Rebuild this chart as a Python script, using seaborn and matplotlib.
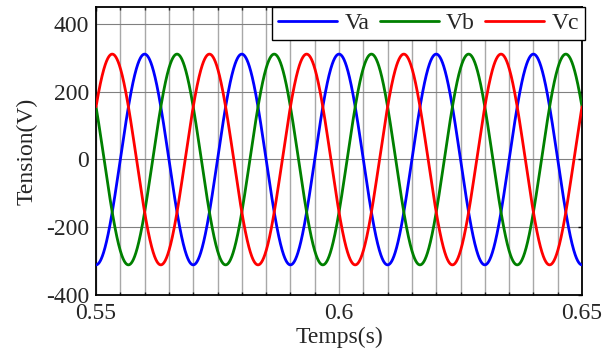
import numpy as np
import pandas as pd
import matplotlib
matplotlib.use("Agg")
import matplotlib.pyplot as plt
import seaborn as sns
from matplotlib.ticker import MultipleLocator

# --- data ---
phases = ["Va", "Vb", "Vc"]
amplitude_V = [311, 311, 311]          # peak voltage of each phase
frequency_Hz = [50, 50, 50]
phase_deg = [0, -120, 120]             # cosine phase (Va peaks at t = 0.56 s)
colors = ["#0000ff", "#008000", "#ff0000"]
t_start, t_end = 0.55, 0.65
x_ticks = [0.55, 0.6, 0.65]
x_tick_labels = ["0.55", "0.6", "0.65"]
y_ticks = [-400, -200, 0, 200, 400]

t = np.linspace(t_start, t_end, 2001)
frames = []
for name, A, f, ph in zip(phases, amplitude_V, frequency_Hz, phase_deg):
    v = A * np.cos(2 * np.pi * f * t + np.deg2rad(ph))
    frames.append(pd.DataFrame({"t": t, "v": v, "phase": name}))
df = pd.concat(frames, ignore_index=True)

sns.set_style("white")
plt.rcParams["font.family"] = ["Liberation Serif", "DejaVu Serif"]
plt.rcParams["axes.unicode_minus"] = False

FS = 17
fig = plt.figure(figsize=(6.02, 3.51), dpi=100)
ax = fig.add_axes([0.1595, 0.1595, 0.8073, 0.8205])

# grids
for xv in np.arange(t_start, t_end + 1e-9, 0.005):
    ax.axvline(xv, color="#a8a8a8", lw=1.0, zorder=0)
for yv in y_ticks:
    ax.axhline(yv, color="#808080", lw=0.8, zorder=0)

sns.lineplot(data=df, x="t", y="v", hue="phase", palette=colors,
             linewidth=2.0, ax=ax, legend=True, zorder=3)

ax.set_xlim(t_start, t_end)
ax.set_ylim(-400, 450)
ax.set_xticks(x_ticks)
ax.set_xticklabels(x_tick_labels)
ax.set_yticks(y_ticks)
ax.xaxis.set_minor_locator(MultipleLocator(0.005))
ax.tick_params(axis="both", which="major", direction="in", length=3, width=1,
               labelsize=FS, top=True, right=True, color="black")
ax.tick_params(axis="x", which="major", pad=6)
ax.tick_params(axis="y", which="major", pad=5)
ax.tick_params(axis="x", which="minor", direction="in", length=2, width=1,
               top=True, bottom=True)
for s in ax.spines.values():
    s.set_color("black")
    s.set_linewidth(1.3)

ax.set_xlabel("Temps(s)", fontsize=FS, labelpad=2)
ax.set_ylabel("Tension(V)", fontsize=FS, labelpad=6)

handles, labels = ax.get_legend_handles_labels()
leg = ax.legend(handles, labels, loc="upper right", ncol=3, fontsize=FS,
                frameon=True, fancybox=False, handlelength=2.5,
                handletextpad=0.3, columnspacing=0.45, borderpad=0.25,
                borderaxespad=0.0, bbox_to_anchor=(1.006, 1.0))
leg.get_frame().set_edgecolor("black")
leg.get_frame().set_linewidth(1.0)
leg.get_frame().set_alpha(1)
for h in leg.get_lines():
    h.set_linewidth(2.0)

fig.savefig("out.png", dpi=100)
